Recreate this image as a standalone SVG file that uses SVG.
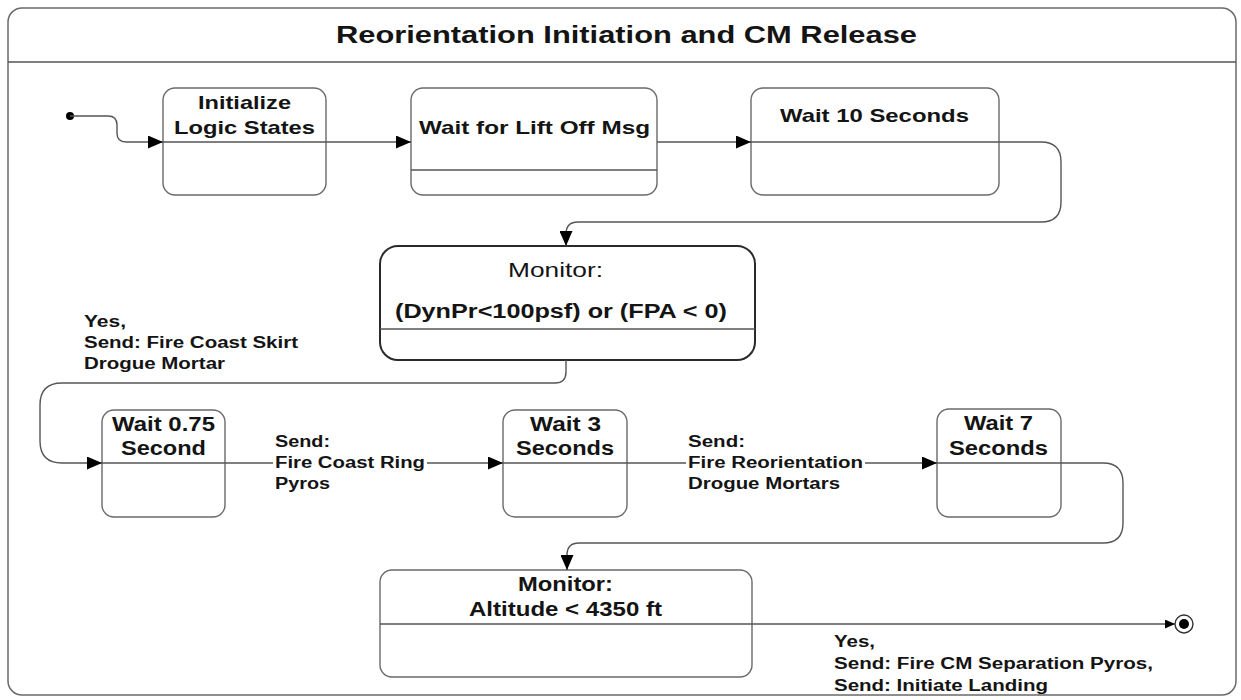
<svg xmlns="http://www.w3.org/2000/svg" width="1241" height="700" viewBox="0 0 1241 700">
<defs>
<style>
.frame{fill:#fff;stroke:#6a6a6a;stroke-width:1.5}
.box{fill:#fff;stroke:#6a6a6a;stroke-width:1.4}
.boxdark{fill:#fff;stroke:#2a2a2a;stroke-width:2}
.div{fill:none;stroke:#555;stroke-width:1.4}
.con{fill:none;stroke:#555;stroke-width:1.4}
.t{font-family:"Liberation Sans",Arial,sans-serif;font-weight:bold;fill:#141414}
.title{font-size:23px}
.n{font-size:18.5px}
.n2{font-size:19.5px}
.reg{font-weight:normal;font-size:21px}
.lbl{font-size:16px}
.bg{fill:#fff;stroke:none}
</style>
<marker id="arr" viewBox="0 0 15 13" refX="15" refY="6.5" markerWidth="15" markerHeight="13" markerUnits="userSpaceOnUse" orient="auto">
<path d="M0,0 L15,6.5 L0,13 z" fill="#000"/>
</marker>
<marker id="arrs" viewBox="0 0 10 9" refX="10" refY="4.5" markerWidth="10" markerHeight="9" markerUnits="userSpaceOnUse" orient="auto">
<path d="M0,0 L10,4.5 L0,9 z" fill="#000"/>
</marker>
</defs>

<g id="frame">
<rect class="frame" x="8" y="8" width="1228" height="687" rx="14"/>
<path class="div" d="M8,62 H1236"/>
<text class="t title" x="336" y="43" textLength="581" lengthAdjust="spacingAndGlyphs">Reorientation Initiation and CM Release</text>
</g>

<g id="initial">
<circle cx="70" cy="116" r="4" fill="#000"/>
</g>

<g id="initialize">
<rect class="box" x="163" y="88" width="163" height="107" rx="12"/>
<text class="t n" x="198" y="109" textLength="93" lengthAdjust="spacingAndGlyphs">Initialize</text>
<text class="t n" x="174" y="134" textLength="141" lengthAdjust="spacingAndGlyphs">Logic States</text>
</g>

<g id="waitLiftOff">
<rect class="box" x="411" y="88" width="246" height="107" rx="12"/>
<path class="div" d="M411,170 H657"/>
<text class="t n" x="419" y="134" textLength="231" lengthAdjust="spacingAndGlyphs">Wait for Lift Off Msg</text>
</g>

<g id="wait10">
<rect class="box" x="751" y="88" width="248" height="107" rx="12"/>
<text class="t n" x="780" y="122" textLength="189" lengthAdjust="spacingAndGlyphs">Wait 10 Seconds</text>
</g>

<g id="monitor1">
<rect class="boxdark" x="380" y="246" width="375" height="114" rx="18"/>
<path class="div" d="M380,329 H755"/>
<text class="t reg" x="508" y="277" textLength="95" lengthAdjust="spacingAndGlyphs">Monitor:</text>
<text class="t n2" x="395" y="318" textLength="332" lengthAdjust="spacingAndGlyphs">(DynPr&lt;100psf) or (FPA &lt; 0)</text>
</g>

<g id="wait075">
<rect class="box" x="102" y="410" width="123" height="107" rx="12"/>
<text class="t n2" x="112" y="431" textLength="103" lengthAdjust="spacingAndGlyphs">Wait 0.75</text>
<text class="t n2" x="121" y="455" textLength="85" lengthAdjust="spacingAndGlyphs">Second</text>
</g>

<g id="wait3">
<rect class="box" x="503" y="410" width="124" height="107" rx="12"/>
<text class="t n2" x="530" y="431" textLength="71" lengthAdjust="spacingAndGlyphs">Wait 3</text>
<text class="t n2" x="516" y="455" textLength="98" lengthAdjust="spacingAndGlyphs">Seconds</text>
</g>

<g id="wait7">
<rect class="box" x="937" y="409" width="124" height="108" rx="12"/>
<text class="t n2" x="964" y="430" textLength="69" lengthAdjust="spacingAndGlyphs">Wait 7</text>
<text class="t n2" x="949" y="455" textLength="99" lengthAdjust="spacingAndGlyphs">Seconds</text>
</g>

<g id="monitor2">
<rect class="box" x="380" y="570" width="372" height="107" rx="12"/>
<path class="div" d="M380,624 H752"/>
<text class="t n2" x="518" y="591" textLength="95" lengthAdjust="spacingAndGlyphs">Monitor:</text>
<text class="t n2" x="469" y="616" textLength="193" lengthAdjust="spacingAndGlyphs">Altitude &lt; 4350 ft</text>
</g>

<g id="final">
<circle cx="1184" cy="624" r="9" fill="#fff" stroke="#333" stroke-width="1.4"/>
<circle cx="1184" cy="624" r="5" fill="#000"/>
</g>

<g id="connectors">
<path class="con" d="M70,116 H108 Q117,116 117,125 V133 Q117,142 126,142 H163" marker-end="url(#arr)"/>
<path class="con" d="M163,142 H411" marker-end="url(#arr)"/>
<path class="con" d="M657,142 H751" marker-end="url(#arr)"/>
<path class="con" d="M751,142 H1041 Q1061,142 1061,162 V202 Q1061,222 1041,222 H578 Q566,222 566,234 V246" marker-end="url(#arr)"/>
<path class="con" d="M566,360 V372 Q566,383 555,383 H62 Q40,383 40,405 V441 Q40,463 62,463 H102" marker-end="url(#arr)"/>
<path class="con" d="M102,463 H503" marker-end="url(#arr)"/>
<path class="con" d="M503,463 H937" marker-end="url(#arr)"/>
<path class="con" d="M937,463 H1103 Q1123,463 1123,483 V523 Q1123,543 1103,543 H579 Q567,543 567,555 V570" marker-end="url(#arr)"/>
<path class="con" d="M752,624 H1175" marker-end="url(#arrs)"/>
</g>

<g id="labels">
<g id="lbl-skirt">
<text class="t lbl" x="84" y="327" textLength="42" lengthAdjust="spacingAndGlyphs">Yes,</text>
<text class="t lbl" x="84" y="348" textLength="214" lengthAdjust="spacingAndGlyphs">Send: Fire Coast Skirt</text>
<text class="t lbl" x="84" y="369" textLength="141" lengthAdjust="spacingAndGlyphs">Drogue Mortar</text>
</g>
<g id="lbl-ring">
<rect class="bg" x="273" y="432" width="154" height="62"/>
<text class="t lbl" x="275" y="447" textLength="55" lengthAdjust="spacingAndGlyphs">Send:</text>
<text class="t lbl" x="275" y="468" textLength="150" lengthAdjust="spacingAndGlyphs">Fire Coast Ring</text>
<text class="t lbl" x="275" y="489" textLength="55" lengthAdjust="spacingAndGlyphs">Pyros</text>
</g>
<g id="lbl-reor">
<rect class="bg" x="686" y="432" width="179" height="62"/>
<text class="t lbl" x="688" y="447" textLength="57" lengthAdjust="spacingAndGlyphs">Send:</text>
<text class="t lbl" x="688" y="468" textLength="175" lengthAdjust="spacingAndGlyphs">Fire Reorientation</text>
<text class="t lbl" x="688" y="489" textLength="152" lengthAdjust="spacingAndGlyphs">Drogue Mortars</text>
</g>
<g id="lbl-final">
<text class="t lbl" x="834" y="647" textLength="41" lengthAdjust="spacingAndGlyphs">Yes,</text>
<text class="t lbl" x="834" y="669" textLength="319" lengthAdjust="spacingAndGlyphs">Send: Fire CM Separation Pyros,</text>
<text class="t lbl" x="834" y="691" textLength="214" lengthAdjust="spacingAndGlyphs">Send: Initiate Landing</text>
</g>
</g>
</svg>
